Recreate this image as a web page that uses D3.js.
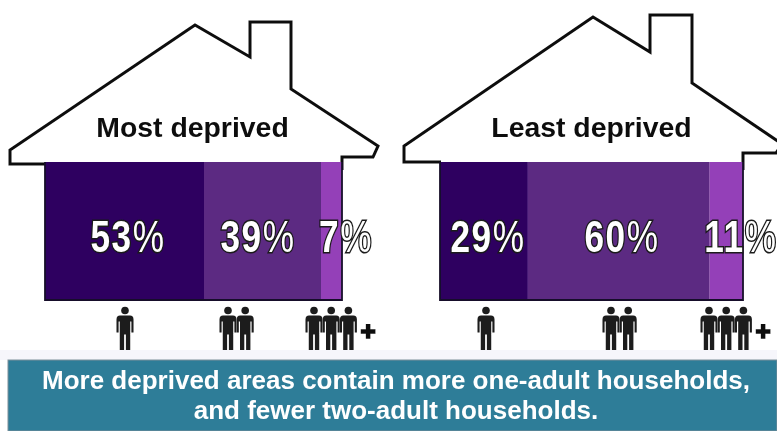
<!DOCTYPE html>
<html>
<head>
<meta charset="utf-8">
<script src="https://cdn.jsdelivr.net/npm/d3@7"></script>
<style>
  html, body { margin: 0; padding: 0; background: #fff; overflow: hidden; }
  text { font-family: "Liberation Sans", Arial, sans-serif; }
</style>
</head>
<body>
<div id="chart"></div>
<script>
// values
const areas = ["Most deprived", "Least deprived"];
const adultGroups = [1, 2, 3];
const mostDeprived = [53, 39, 7];
const leastDeprived = [29, 60, 11];
const message = ["More deprived areas contain more one-adult households,", "and fewer two-adult households."];

const colors = ["#2d0061", "#5c2a82", "#9440b8"];

const svg = d3.select("#chart").append("svg")
    .attr("width", 777)
    .attr("height", 431)
    .style("display", "block");

const defs = svg.append("defs");
defs.append("filter").attr("id", "soft")
    .append("feGaussianBlur").attr("stdDeviation", 0.45);

// one person, origin at top centre, 44 tall
const person = defs.append("g").attr("id", "person");
person.append("circle").attr("cx", 0).attr("cy", 4).attr("r", 3.8);
person.append("path").attr("d",
    "M-5,9 L5,9 Q8.5,9 8.5,13 L8.5,26 L6.4,26 L6.4,15 L5.2,15 L5.2,44 L0.9,44 L0.9,28 " +
    "L-0.9,28 L-0.9,44 L-5.2,44 L-5.2,15 L-6.4,15 L-6.4,26 L-8.5,26 L-8.5,13 Q-8.5,9 -5,9 Z");

const line = d3.line();

function drawHouse(cfg) {
    const g = svg.append("g").attr("filter", "url(#soft)");

    const x = d3.scaleLinear()
        .domain([0, d3.sum(cfg.values)])
        .range([cfg.left, cfg.right]);
    const y = d3.scaleLinear().domain([0, 1]).range([300, 162]);

    // house outline
    g.append("path")
        .attr("d", line(cfg.outline))
        .attr("fill", "#fff")
        .attr("stroke", "#111")
        .attr("stroke-width", 3)
        .attr("stroke-linejoin", "miter");

    // stacked bar
    const starts = d3.cumsum([0].concat(cfg.values));
    g.selectAll("rect.seg")
        .data(cfg.values)
        .enter().append("rect")
        .attr("class", "seg")
        .attr("x", (d, i) => x(starts[i]))
        .attr("y", y(1))
        .attr("width", d => x(d) - x(0))
        .attr("height", y(0) - y(1))
        .attr("fill", (d, i) => colors[i]);

    // walls and floor over the bar
    g.append("path")
        .attr("d", line([[cfg.left, 162], [cfg.left, 300], [cfg.right, 300], [cfg.right, 162]]))
        .attr("fill", "none")
        .attr("stroke", "#15102a")
        .attr("stroke-width", 1.8);

    g.append("text")
        .attr("x", cfg.titleX)
        .attr("y", 137)
        .attr("text-anchor", "middle")
        .attr("font-size", 28.4)
        .attr("font-weight", "bold")
        .attr("fill", "#111")
        .text(cfg.name);

    // percentage labels, heavy digits with a thin percent sign
    const pct = g.selectAll("text.pct")
        .data(cfg.values)
        .enter().append("text")
        .attr("class", "pct")
        .attr("transform", (d, i) => "translate(" + cfg.labelX[i] + "," + 252 + ") scale(0.8,1)")
        .attr("text-anchor", "middle")
        .attr("font-size", 44)
        .attr("letter-spacing", 2)
        .attr("fill", "#fff")
        .attr("stroke", "#1a1a1a")
        .attr("stroke-width", 3)
        .attr("paint-order", "stroke");
    pct.append("tspan").attr("font-weight", "bold").text(d => d);
    pct.append("tspan").text("%");

    // people under each segment
    adultGroups.forEach((n, i) => {
        d3.range(n).forEach(k => {
            g.append("use")
                .attr("href", "#person")
                .attr("x", cfg.peopleX[i] + k * 17.2)
                .attr("y", 306.5)
                .attr("fill", "#1c1c1c");
        });
    });

    g.append("text")
        .attr("x", cfg.plusX)
        .attr("y", 339.5)
        .attr("text-anchor", "middle")
        .attr("font-size", 26)
        .attr("font-weight", "bold")
        .attr("fill", "#111")
        .attr("stroke", "#111")
        .attr("stroke-width", 1.6)
        .text("+");
}

drawHouse({
    name: areas[0],
    values: mostDeprived,
    left: 45,
    right: 342,
    titleX: 192.5,
    labelX: [128, 258, 346],
    peopleX: [125, 228, 314],
    plusX: 368,
    outline: [[45, 164], [10, 164], [10, 150], [195, 25], [250, 57], [250, 22], [291, 22],
               [291, 89], [378, 146], [373, 157], [342, 157], [342, 170]]
});

drawHouse({
    name: areas[1],
    values: leastDeprived,
    left: 440,
    right: 743,
    titleX: 591.5,
    labelX: [488, 622, 741],
    peopleX: [486, 611, 709],
    plusX: 763,
    outline: [[441, 162], [404, 162], [404, 146], [593, 17], [650, 52], [650, 15], [692, 15],
              [692, 83], [782, 144], [776, 153], [743, 153], [743, 170]]
});

// faint band and message box at the bottom
svg.append("rect").attr("x", 0).attr("y", 350).attr("width", 777).attr("height", 10).attr("fill", "#f6f6fb");
svg.append("rect").attr("x", 8).attr("y", 360).attr("width", 769).attr("height", 71)
    .attr("fill", "#2e7d98").attr("stroke", "#7d8f99").attr("stroke-width", 1);

svg.append("g").attr("filter", "url(#soft)")
    .selectAll("text")
    .data(message)
    .enter().append("text")
    .attr("x", 396)
    .attr("y", (d, i) => 388.5 + i * 30.5)
    .attr("text-anchor", "middle")
    .attr("font-size", 26)
    .attr("font-weight", "bold")
    .attr("fill", "#fff")
    .text(d => d);
</script>
</body>
</html>
